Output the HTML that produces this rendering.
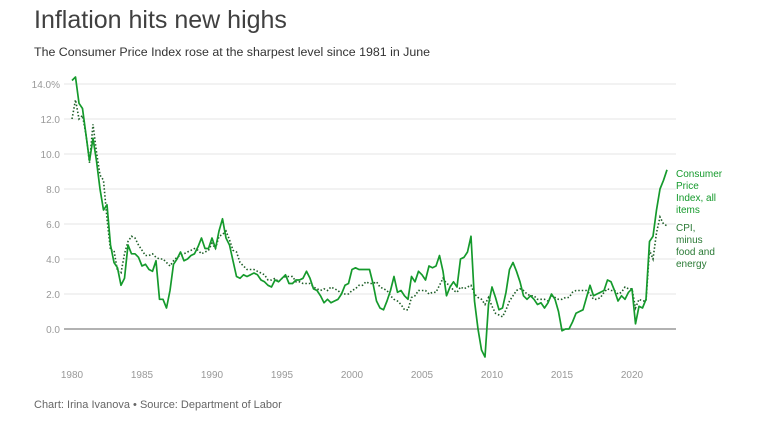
<!DOCTYPE html>
<html><head><meta charset="utf-8">
<style>
body{margin:0;background:#fff;font-family:"Liberation Sans",sans-serif;}
#wrap{position:relative;width:762px;height:424px;overflow:hidden;}
h1{position:absolute;left:34px;top:6px;margin:0;font-size:25px;font-weight:normal;color:#404040;}
.sub{position:absolute;left:34px;top:45px;font-size:12.4px;color:#333;}
.foot{position:absolute;left:34px;top:399px;font-size:11px;color:#666;}
svg{position:absolute;left:0;top:0;}
</style></head><body>
<div id="wrap">
<h1>Inflation hits new highs</h1>
<div class="sub">The Consumer Price Index rose at the sharpest level since 1981 in June</div>
<div class="foot">Chart: Irina Ivanova • Source: Department of Labor</div>
<svg id="chart" width="762" height="424"></svg>
</div>
<script>
const startYear = 1980;
const yTicks = [0,2,4,6,8,10,12,14];
const yTickLabels = ["0.0","2.0","4.0","6.0","8.0","10.0","12.0","14.0%"];
const xTicks = [1980,1985,1990,1995,2000,2005,2010,2015,2020];
const cpiAll = [
14.2,14.4,12.9,12.6, 11.1,9.6,10.9,9.6, 8.0,6.8,7.1,4.8, 3.8,3.5,2.5,2.9,
4.8,4.3,4.3,4.1, 3.6,3.7,3.4,3.3, 3.9,1.7,1.7,1.2, 2.2,3.7,4.0,4.4,
3.9,4.0,4.2,4.3, 4.7,5.2,4.6,4.6, 5.2,4.6,5.6,6.3, 5.2,4.8,3.9,3.0,
2.9,3.1,3.0,3.1, 3.2,3.1,2.8,2.7, 2.5,2.4,2.8,2.7, 2.9,3.1,2.6,2.6,
2.8,2.8,2.9,3.3, 2.9,2.3,2.2,1.9, 1.5,1.7,1.5,1.6, 1.7,2.0,2.5,2.6,
3.4,3.5,3.4,3.4, 3.4,3.4,2.6,1.6, 1.2,1.1,1.6,2.2, 3.0,2.1,2.2,1.9,
1.7,3.0,2.7,3.3, 3.1,2.8,3.6,3.5, 3.6,4.2,3.3,1.9, 2.4,2.7,2.4,4.0,
4.1,4.4,5.3,1.6, 0.0,-1.2,-1.6,1.4, 2.4,1.8,1.1,1.2, 2.1,3.4,3.8,3.3,
2.7,1.9,1.7,1.9, 1.7,1.4,1.5,1.2, 1.5,2.0,1.7,1.0, -0.1,0.0,0.0,0.4,
0.9,1.0,1.1,1.8, 2.5,1.9,2.0,2.1, 2.2,2.8,2.7,2.2, 1.6,1.9,1.7,2.1,
2.3,0.3,1.3,1.2, 1.7,5.0,5.3,6.8, 8.0,8.5,9.1];
const cpiCore = [
12.0,13.1,12.0,12.2, 11.1,9.5,11.7,10.1, 8.8,8.5,6.3,4.5, 4.5,3.3,3.2,4.3,
5.0,5.3,5.2,4.8, 4.5,4.2,4.2,4.3, 4.1,4.0,4.0,3.8, 3.6,3.9,4.1,4.2,
4.3,4.4,4.5,4.6, 4.5,4.3,4.4,4.5, 4.9,4.6,5.3,5.4, 5.6,5.1,4.5,4.4,
3.8,3.6,3.4,3.4, 3.4,3.3,3.2,3.1, 2.8,2.8,2.9,2.7, 2.9,3.0,3.0,3.0,
2.7,2.7,2.6,2.6, 2.6,2.4,2.3,2.2, 2.3,2.2,2.4,2.3, 2.2,2.0,2.0,2.0,
2.2,2.3,2.5,2.5, 2.7,2.6,2.6,2.7, 2.4,2.3,2.2,1.9, 1.7,1.6,1.4,1.1,
1.1,1.8,1.9,2.2, 2.2,2.2,2.0,2.1, 2.1,2.5,2.9,2.6, 2.5,2.2,2.1,2.4,
2.3,2.4,2.5,2.0, 1.8,1.7,1.4,1.8, 1.3,0.9,0.8,0.7, 1.1,1.6,1.9,2.2,
2.3,2.2,2.0,1.9, 1.9,1.7,1.7,1.7, 1.6,1.9,1.8,1.7, 1.7,1.8,1.8,2.1,
2.2,2.2,2.2,2.2, 2.0,1.7,1.7,1.8, 2.1,2.3,2.2,2.2, 2.0,2.1,2.4,2.3,
2.3,1.2,1.7,1.6, 1.6,4.5,4.0,5.5, 6.4,6.0,5.9];

const svg = document.getElementById('chart');
const NS = 'http://www.w3.org/2000/svg';
const xScale = yr => 72 + (yr - 1980) * 14;
const yScale = v => 329 - v * 17.5;
function mk(tag, attrs){const e=document.createElementNS(NS,tag);for(const k in attrs)e.setAttribute(k,attrs[k]);svg.appendChild(e);return e;}

yTicks.forEach((t,i)=>{
  if(t!==0){
    const g = mk('line',{x1:64,x2:676,y1:yScale(t),y2:yScale(t),stroke:'#e6e6e6','stroke-width':1});
    
    
  }
  const lb = mk('text',{x:60,y:yScale(t)+4,'text-anchor':'end','font-size':10,fill:'#999','font-family':'Liberation Sans, sans-serif'});
  lb.textContent = yTickLabels[i];
  
  
});
xTicks.forEach(t=>{
  const lb = mk('text',{x:xScale(t),y:378,'text-anchor':'middle','font-size':10,fill:'#999','font-family':'Liberation Sans, sans-serif'});
  lb.textContent = t;
  
  
});
const zero = mk('line',{x1:64,x2:676,y1:yScale(0),y2:yScale(0),stroke:'#666','stroke-width':1});



function pathFor(arr){return arr.map((v,i)=>(i?'L':'M')+xScale(startYear+i/4).toFixed(1)+','+yScale(v).toFixed(1)).join(' ');}
const core = mk('path',{d:pathFor(cpiCore),fill:'none',stroke:'#1e5e28','stroke-width':1.6,'stroke-dasharray':'1.5,2'});


const all = mk('path',{d:pathFor(cpiAll),fill:'none',stroke:'#159a2c','stroke-width':1.7,'stroke-linejoin':'round'});



function legend(lines,y0,color,name){
  const t = mk('text',{x:676,y:y0,'font-size':10,fill:color,'font-family':'Liberation Sans, sans-serif'});
  
  
  lines.forEach((s,i)=>{const ts=document.createElementNS(NS,'tspan');ts.setAttribute('x',676);ts.setAttribute('y',y0+i*12);ts.textContent=s;t.appendChild(ts);});
}
legend(['Consumer','Price','Index, all','items'],177,'#159a2c','legend-cpi-all');
legend(['CPI,','minus','food and','energy'],231,'#2a7a35','legend-core-cpi');
</script>
</body></html>
